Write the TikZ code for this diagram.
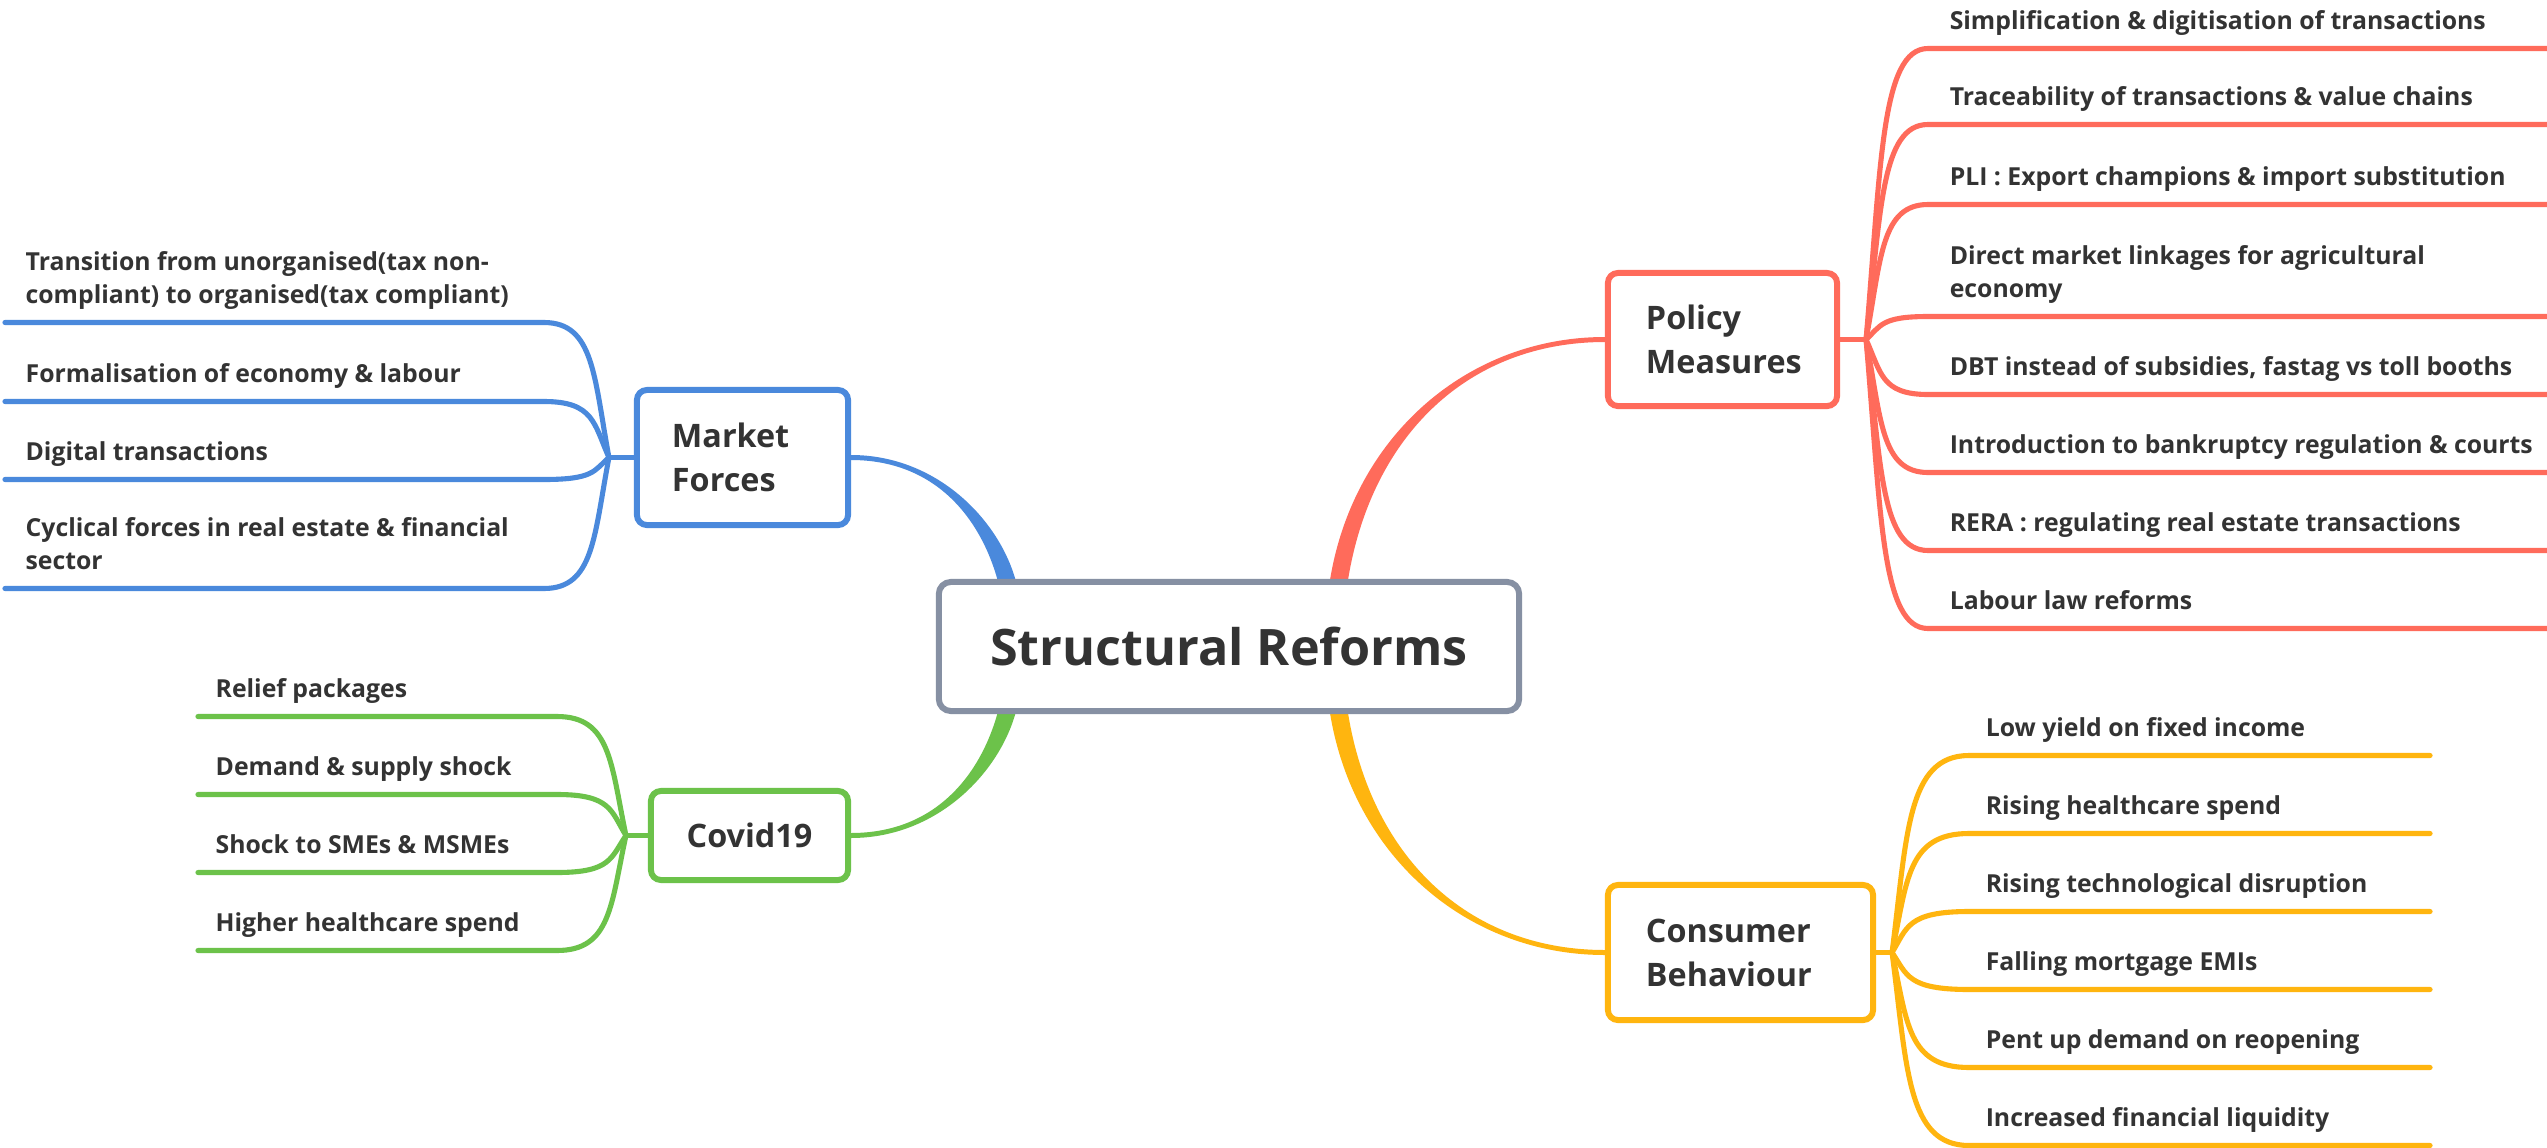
\documentclass[tikz,border=0pt]{standalone}
\usepackage{fontspec}
\setmainfont{Open Sans}
\usetikzlibrary{calc,backgrounds}
\definecolor{cblue}{HTML}{4A89DC}
\definecolor{cred}{HTML}{FF6B5B}
\definecolor{cgreen}{HTML}{6CC24A}
\definecolor{cyel}{HTML}{FFB50F}
\definecolor{cgray}{HTML}{8690A3}
\definecolor{ctext}{HTML}{333333}
\newcommand\leafline[6]{%
  \pgfmathsetmacro\dyb{0.6*(#3)}%
  \draw[#1] (#2) .. controls ($(#2)+(#4*15,\dyb)$) and ($(#2)+(#4*15,#3)$) .. ($(#2)+(#5,#3)$) -- ($(#2)+(#6,#3)$);}
\newcommand\leaftext[5]{%
  \node[leaf, anchor=base west] (#1) at ($(#2)+(#3,#4-19.5)$) {\vbox{#5}};}
\begin{document}
\begin{tikzpicture}[x=0.01cm,y=-0.01cm,
  leaf/.style={inner sep=0, text=ctext, font=\fontsize{7.05}{9.2}\selectfont\bfseries},
  bl/.style={line width=1.45pt, line cap=round, cblue},
  rl/.style={line width=1.45pt, line cap=round, cred},
  gl/.style={line width=1.45pt, line cap=round, cgreen},
  yl/.style={line width=1.45pt, line cap=round, cyel},
  subbox/.style={draw, line width=1.7pt, rounded corners=0.1cm, fill=white, text=ctext,
     font=\fontsize{9.2}{12.5}\selectfont\bfseries, align=left, inner ysep=0},
  mainbox/.style={draw=cgray, line width=1.7pt, rounded corners=0.12cm, fill=white, text=ctext,
     font=\fontsize{14.3}{18}\selectfont\bfseries, minimum width=5.8cm, minimum height=1.29cm}]
\useasboundingbox (0,0) rectangle (2547,1148);

% central and subtopics
\node[mainbox] (c) at (1229,646.5) {Structural Reforms};
\node[subbox, draw=cblue, minimum width=2.11cm, minimum height=1.35cm, text width=1.41cm, inner xsep=0.35cm] (mf) at (742.5,457.5) {Market\\Forces};
\node[subbox, draw=cred, minimum width=2.29cm, minimum height=1.33cm, text width=1.53cm, inner xsep=0.38cm] (pm) at (1722.5,339.5) {Policy\\Measures};
\node[subbox, draw=cyel, minimum width=2.65cm, minimum height=1.35cm, text width=1.89cm, inner xsep=0.38cm] (cb) at (1740.5,952.5) {Consumer\\Behaviour};
\node[subbox, draw=cgreen, minimum width=1.97cm, minimum height=0.89cm, align=center] (cv) at (749.5,835.5) {Covid19};

\coordinate (cbt) at ($(c.north west)+(71,0)$);
\coordinate (crt) at ($(c.north west)+(403,0)$);
\coordinate (cbb) at ($(c.south west)+(71,0)$);
\coordinate (crb) at ($(c.south west)+(403,0)$);

\coordinate (jm) at ($(mf.west)+(-25,0)$);
\coordinate (jc) at ($(cv.west)+(-22,0)$);
\coordinate (jp) at ($(pm.east)+(26,0)$);
\coordinate (jb) at ($(cb.east)+(16,0)$);

\begin{scope}[on background layer]
\fill[white] (0,0) rectangle (2547,1148);
% tapered main branches
\fill[cblue] ($(mf.east)+(0,-2.5)$) .. controls ($(mf.east)+(85,-2.5)$) and ($(cbt)+(-8,-60)$) .. ($(cbt)+(9,2)$)
  -- ($(cbt)+(-9,2)$) .. controls ($(cbt)+(-26,-60)$) and ($(mf.east)+(85,2.5)$) .. ($(mf.east)+(0,2.5)$) -- cycle;
\fill[cgreen] ($(cv.east)+(0,2.5)$) .. controls ($(cv.east)+(85,2.5)$) and ($(cbb)+(-8,60)$) .. ($(cbb)+(9,-2)$)
  -- ($(cbb)+(-9,-2)$) .. controls ($(cbb)+(-26,60)$) and ($(cv.east)+(85,-2.5)$) .. ($(cv.east)+(0,-2.5)$) -- cycle;
\fill[cred] ($(crt)+(-9,2)$) .. controls ($(crt)+(14,-142)$) and ($(pm.west)+(-138,-2.5)$) .. ($(pm.west)+(0,-2.5)$)
  -- ($(pm.west)+(0,2.5)$) .. controls ($(pm.west)+(-138,2.5)$) and ($(crt)+(32,-142)$) .. ($(crt)+(9,2)$) -- cycle;
\fill[cyel] ($(crb)+(-9,-2)$) .. controls ($(crb)+(14,142)$) and ($(cb.west)+(-138,2.5)$) .. ($(cb.west)+(0,2.5)$)
  -- ($(cb.west)+(0,-2.5)$) .. controls ($(cb.west)+(-138,-2.5)$) and ($(crb)+(32,142)$) .. ($(crb)+(9,-2)$) -- cycle;

% junction stubs
\draw[bl] (mf.west) -- (jm);
\draw[gl] (cv.west) -- (jc);
\draw[rl] (pm.east) -- (jp);
\draw[yl] (cb.east) -- (jb);

% leaf lines
\foreach \d in {-135,-56,22,131} {\leafline{bl}{jm}{\d}{-1}{-65}{-604}}
\foreach \d in {-119,-41,37,115} {\leafline{gl}{jc}{\d}{-1}{-69}{-428}}
\foreach \d in {-291,-215,-135,-23,55,133,211,289} {\leafline{rl}{jp}{\d}{1}{62}{690}}
\foreach \d in {-197,-119,-41,37,115,193} {\leafline{yl}{jb}{\d}{1}{77}{538}}
\end{scope}

% leaf texts: Market Forces
\leaftext{m1}{jm}{-584}{-135}{\hbox{Transition from unorganised(tax non-}\hbox{compliant) to organised(tax compliant)}}
\leaftext{m2}{jm}{-584}{-56}{\hbox{Formalisation of economy \& labour}}
\leaftext{m3}{jm}{-584}{22}{\hbox{Digital transactions}}
\leaftext{m4}{jm}{-584}{131}{\hbox{Cyclical forces in real estate \& financial}\hbox{sector}}

% Covid19
\leaftext{v1}{jc}{-411}{-119}{\hbox{Relief packages}}
\leaftext{v2}{jc}{-411}{-41}{\hbox{Demand \& supply shock}}
\leaftext{v3}{jc}{-411}{37}{\hbox{Shock to SMEs \& MSMEs}}
\leaftext{v4}{jc}{-411}{115}{\hbox{Higher healthcare spend}}

% Policy Measures
\leaftext{p1}{jp}{83}{-291}{\hbox{Simplification \& digitisation of transactions}}
\leaftext{p2}{jp}{83}{-215}{\hbox{Traceability of transactions \& value chains}}
\leaftext{p3}{jp}{83}{-135}{\hbox{PLI : Export champions \& import substitution}}
\leaftext{p4}{jp}{83}{-23}{\hbox{Direct market linkages for agricultural}\hbox{economy}}
\leaftext{p5}{jp}{83}{55}{\hbox{DBT instead of subsidies, fastag vs toll booths}}
\leaftext{p6}{jp}{83}{133}{\hbox{Introduction to bankruptcy regulation \& courts}}
\leaftext{p7}{jp}{83}{211}{\hbox{RERA : regulating real estate transactions}}
\leaftext{p8}{jp}{83}{289}{\hbox{Labour law reforms}}

% Consumer Behaviour
\leaftext{b1}{jb}{93}{-197}{\hbox{Low yield on fixed income}}
\leaftext{b2}{jb}{93}{-119}{\hbox{Rising healthcare spend}}
\leaftext{b3}{jb}{93}{-41}{\hbox{Rising technological disruption}}
\leaftext{b4}{jb}{93}{37}{\hbox{Falling mortgage EMIs}}
\leaftext{b5}{jb}{93}{115}{\hbox{Pent up demand on reopening}}
\leaftext{b6}{jb}{93}{193}{\hbox{Increased financial liquidity}}
\end{tikzpicture}
\end{document}
